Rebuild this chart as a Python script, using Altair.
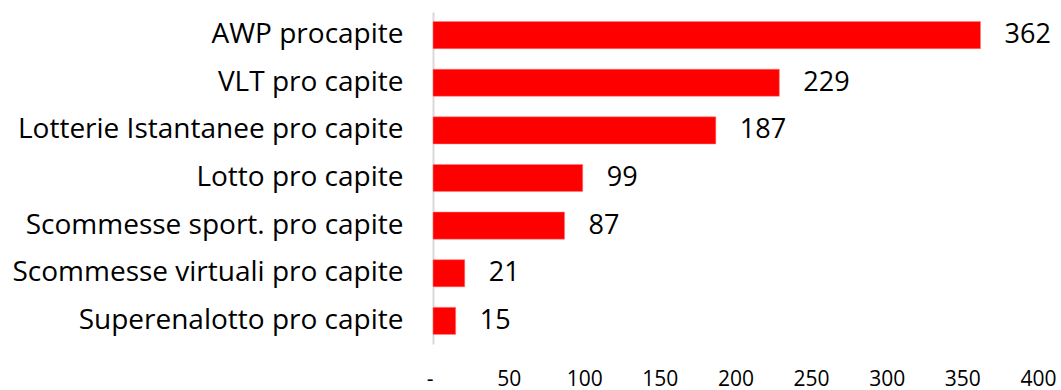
import altair as alt
import pandas as pd

categories = [
    "AWP procapite",
    "VLT pro capite",
    "Lotterie Istantanee pro capite",
    "Lotto pro capite",
    "Scommesse sport. pro capite",
    "Scommesse virtuali pro capite",
    "Superenalotto pro capite",
]
values = [362, 229, 187, 99, 87, 21, 15]
x_ticks = [0, 50, 100, 150, 200, 250, 300, 350, 400]

df = pd.DataFrame({"cat": categories, "val": values})

FONT = "Open Sans"

base = alt.Chart(df).encode(
    y=alt.Y(
        "cat:N",
        sort=categories,
        title=None,
        scale=alt.Scale(paddingInner=0.43, paddingOuter=0.2),
        axis=alt.Axis(
            domain=True,
            domainColor="#d9d9d9",
            domainWidth=2,
            ticks=False,
            labelFont=FONT,
            labelFontSize=28,
            labelColor="#000000",
            labelPadding=30,
            labelLimit=500,
        ),
    ),
    x=alt.X(
        "val:Q",
        title=None,
        scale=alt.Scale(domain=[0, 400], nice=False),
        axis=alt.Axis(
            values=x_ticks,
            domain=False,
            ticks=False,
            grid=False,
            labelFlush=False,
            labelOverlap=False,
            labelFont=FONT,
            labelFontSize=21,
            labelColor="#000000",
            labelPadding=24,
            labelAlign={
                "condition": {"test": "datum.value == 0", "value": "right"},
                "value": "center",
            },
            labelExpr="datum.value == 0 ? '-' : datum.label",
        ),
    ),
)

bars = base.mark_bar(color="#ff0000", stroke="#ff8080", strokeWidth=0.5)
labels = base.mark_text(
    align="left", baseline="middle", dx=24, font=FONT, fontSize=27, color="#000000"
).encode(text="val:Q")

chart = (
    (bars + labels)
    .properties(
        width=605,
        height=332,
        background="white",
        autosize=alt.AutoSizeParams(type="none"),
        padding={"left": 433, "top": 12, "right": 23, "bottom": 46},
    )
    .configure_view(strokeWidth=0)
)

chart.save("out.html", embed_options={"renderer": "svg", "actions": False})
